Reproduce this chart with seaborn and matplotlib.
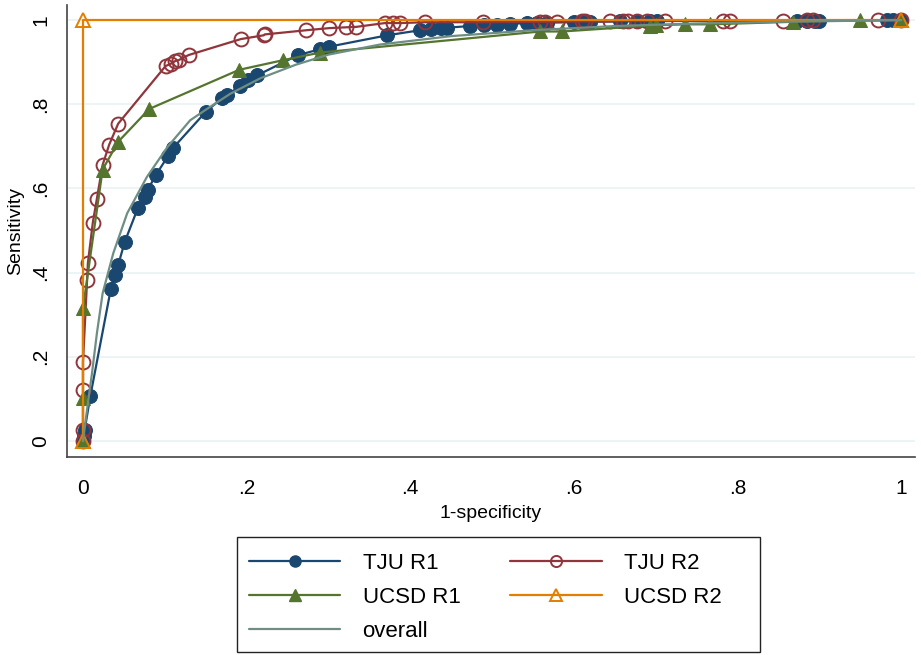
import matplotlib
matplotlib.use("Agg")
import matplotlib.pyplot as plt
from matplotlib.lines import Line2D
from matplotlib.patches import Rectangle
import seaborn as sns
import pandas as pd

# ---- data ----
tju_r1_x = [0, 0.001, 0.002, 0.009, 0.034, 0.039, 0.043, 0.051, 0.067, 0.076, 0.079, 0.089,
            0.104, 0.110, 0.150, 0.170, 0.176, 0.192, 0.202, 0.213, 0.263, 0.290, 0.301,
            0.372, 0.412, 0.425, 0.437, 0.445, 0.473, 0.490, 0.506, 0.522, 0.543, 0.555,
            0.567, 0.600, 0.610, 0.620, 0.656, 0.677, 0.693, 0.702, 0.873, 0.885, 0.895,
            0.900, 0.983, 0.990, 1.0]
tju_r1_y = [0, 0.012, 0.026, 0.107, 0.361, 0.394, 0.418, 0.473, 0.553, 0.580, 0.596, 0.632,
            0.677, 0.696, 0.782, 0.815, 0.822, 0.843, 0.857, 0.869, 0.917, 0.931, 0.937,
            0.964, 0.976, 0.978, 0.981, 0.982, 0.986, 0.988, 0.989, 0.991, 0.993, 0.993,
            0.994, 0.995, 0.995, 0.996, 0.997, 0.997, 0.997, 0.998, 0.998, 0.999, 0.999,
            0.999, 1.0, 1.0, 1.0]

tju_r2_x = [0, 0, 0, 0, 0.005, 0.006, 0.012, 0.017, 0.024, 0.032, 0.043, 0.101, 0.107,
            0.113, 0.117, 0.129, 0.193, 0.221, 0.222, 0.273, 0.301, 0.322, 0.334, 0.369,
            0.379, 0.388, 0.418, 0.489, 0.559, 0.565, 0.579, 0.610, 0.614, 0.644, 0.660,
            0.666, 0.677, 0.690, 0.711, 0.782, 0.791, 0.856, 0.885, 0.892, 0.972, 1.0]
tju_r2_y = [0, 0.026, 0.121, 0.188, 0.382, 0.423, 0.519, 0.576, 0.656, 0.704, 0.754, 0.891,
            0.896, 0.903, 0.905, 0.917, 0.955, 0.964, 0.966, 0.976, 0.981, 0.983, 0.984,
            0.993, 0.993, 0.993, 0.995, 0.995, 0.996, 0.996, 0.996, 0.997, 0.997, 0.997,
            0.998, 0.998, 0.998, 0.998, 0.998, 0.999, 0.999, 0.999, 1.0, 1.0, 1.0, 1.0]

ucsd_r1_x = [0, 0, 0, 0.024, 0.043, 0.081, 0.191, 0.245, 0.290, 0.559, 0.586, 0.693, 0.700,
             0.736, 0.767, 0.868, 0.950, 1.0]
ucsd_r1_y = [0, 0.102, 0.316, 0.645, 0.711, 0.789, 0.882, 0.905, 0.923, 0.973, 0.973, 0.987,
             0.988, 0.990, 0.990, 0.996, 1.0, 1.0]

ucsd_r2_x = [0, 0, 1]
ucsd_r2_y = [0, 1, 1]

overall_x = [0, 0.003, 0.006, 0.011, 0.017, 0.024, 0.037, 0.054, 0.078, 0.103, 0.131, 0.150,
             0.180, 0.217, 0.260, 0.300, 0.363, 0.450, 0.550, 0.650, 0.750, 0.850, 1.0]
overall_y = [0, 0.045, 0.090, 0.161, 0.256, 0.351, 0.446, 0.541, 0.627, 0.698, 0.762, 0.787,
             0.825, 0.862, 0.894, 0.918, 0.942, 0.962, 0.976, 0.986, 0.992, 0.996, 1.0]

series_labels = ["TJU R1", "TJU R2", "UCSD R1", "UCSD R2", "overall"]
x_ticks = [0, 0.2, 0.4, 0.6, 0.8, 1.0]
tick_labels = ["0", ".2", ".4", ".6", ".8", "1"]

# ---- style ----
sns.set_theme(style="white")
plt.rcParams["font.family"] = ["Liberation Sans", "DejaVu Sans"]
plt.rcParams["text.color"] = "black"

navy = "#1a476f"
maroon = "#90353b"
green = "#55752f"
orange = "#e37e00"
teal = "#6e8e84"

W, H = 921, 655
fig = plt.figure(figsize=(W / 100, H / 100), dpi=100)
ax = fig.add_axes([0.0727, 0.3023, 0.9208, 0.6901])

styles = [
    dict(color=navy, marker="o", markersize=10, markerfacecolor=navy, markeredgecolor=navy),
    dict(color=maroon, marker="o", markersize=10, markerfacecolor="none",
         markeredgecolor=maroon, markeredgewidth=1.4),
    dict(color=green, marker="^", markersize=10.5, markerfacecolor=green, markeredgecolor=green),
    dict(color=orange, marker="^", markersize=10.5, markerfacecolor="none",
         markeredgecolor=orange, markeredgewidth=1.4),
    dict(color=teal),
]
series = [(tju_r1_x, tju_r1_y), (tju_r2_x, tju_r2_y), (ucsd_r1_x, ucsd_r1_y),
          (ucsd_r2_x, ucsd_r2_y), (overall_x, overall_y)]

for (xs, ys), lab, st in zip(series, series_labels, styles):
    df = pd.DataFrame({"x": xs, "y": ys})
    sns.lineplot(data=df, x="x", y="y", ax=ax, sort=False, estimator=None,
                 linewidth=1.6, legend=False, **st)

ax.set_xlim(-0.0196, 1.017)
ax.set_ylim(-0.038, 1.036)
ax.set_xticks(x_ticks)
ax.set_xticklabels(tick_labels)
ax.set_yticks(x_ticks)
ax.set_yticklabels(tick_labels, rotation=90, va="center")
ax.tick_params(axis="both", which="major", direction="out", length=6, width=1,
               color="#333333", labelsize=15, labelcolor="black")
ax.tick_params(axis="x", pad=10)
ax.tick_params(axis="y", pad=6)
ax.grid(axis="y", color="#eaf2f3", linewidth=1.2)
ax.grid(axis="x", visible=False)
ax.set_axisbelow(True)
for s in ["top", "right"]:
    ax.spines[s].set_visible(False)
for s in ["left", "bottom"]:
    ax.spines[s].set_color("#444444")
    ax.spines[s].set_linewidth(1.2)
ax.set_xlabel("1-specificity", fontsize=14, color="black", labelpad=5)
ax.set_ylabel("Sensitivity", fontsize=14, color="black", labelpad=5)

# legend proxies (row-major order as in reference)
proxies = []
for st in styles:
    kw = dict(st)
    if "markersize" in kw:
        kw["markersize"] = 8
    proxies.append(Line2D([0], [0], linewidth=1.6, **kw))
order = [0, 2, 4, 1, 3]
box_l, box_t, box_r, box_b = 237, 537, 760, 652
leg = fig.legend([proxies[i] for i in order], [series_labels[i] for i in order],
                 loc="upper left", bbox_to_anchor=(box_l / W, 1 - (box_t + 4) / H),
                 ncol=2, fontsize=16, frameon=False, borderaxespad=0,
                 handlelength=4.1, handletextpad=1.0, columnspacing=2.25,
                 labelspacing=0.57, borderpad=0.55, labelcolor="black")
fig.patches.append(Rectangle((box_l / W, 1 - box_b / H), (box_r - box_l) / W,
                             (box_b - box_t) / H, transform=fig.transFigure,
                             fill=False, edgecolor="#222222", linewidth=1.0))

fig.savefig("out.png", dpi=100)
